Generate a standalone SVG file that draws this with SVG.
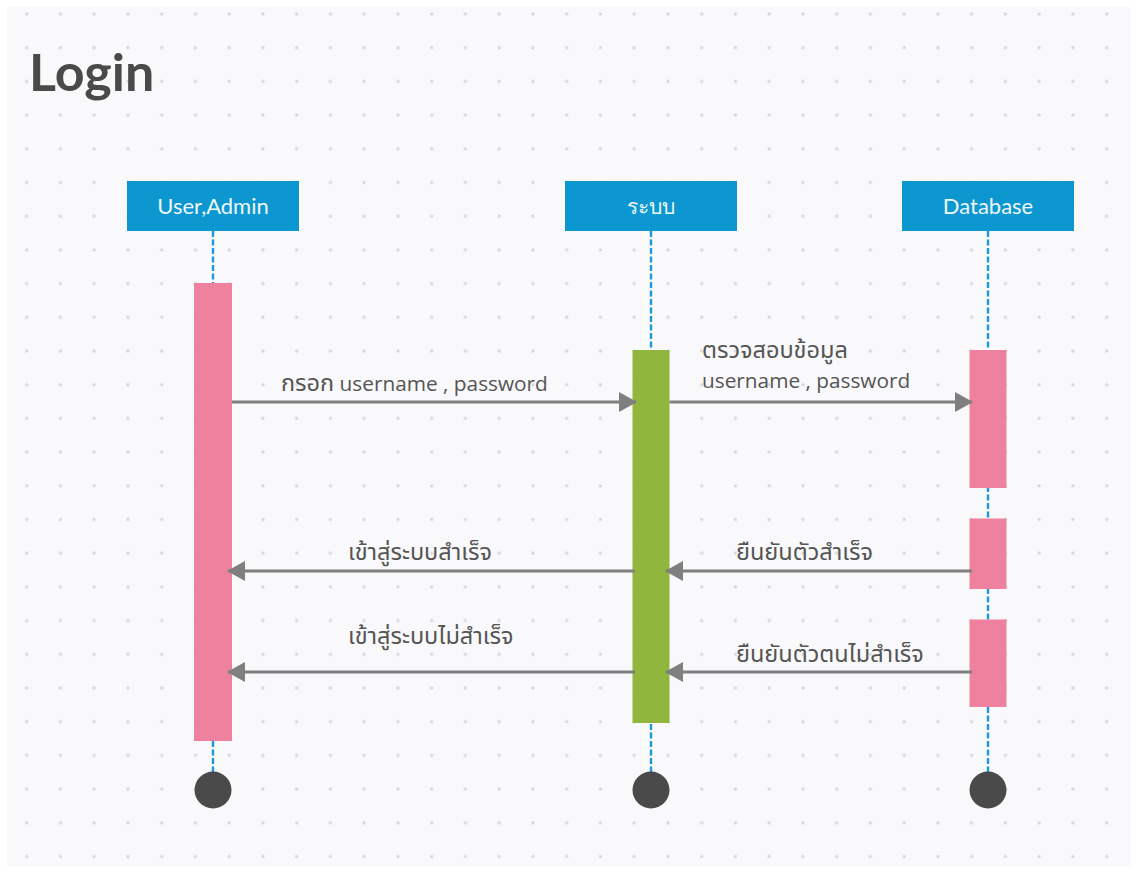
<svg xmlns="http://www.w3.org/2000/svg" width="1137" height="873" viewBox="0 0 1137 873">
  <defs>
    <pattern id="dots" patternUnits="userSpaceOnUse" x="9.8" y="-2.85" width="33.75" height="33.7">
      <circle cx="16.875" cy="16.85" r="1.7" fill="#d8d8dc"/>
    </pattern>
    <marker id="arrow" viewBox="0 0 18 20" refX="17" refY="10" markerUnits="userSpaceOnUse" markerWidth="18" markerHeight="20" orient="auto">
      <path d="M0,0 L18,10 L0,20 Z" fill="#7f7f7f"/>
    </marker>
    <style>
      .head { fill: #0c97d0; }
      .head-text { font-family: Lato, "Open Sans", sans-serif; font-size: 22px; fill: #eef7fb; text-anchor: middle; }
      .head-thai { font-size: 21px; }
      .life { stroke: #1a9ad6; stroke-width: 2.4; stroke-dasharray: 6 2.5; fill: none; }
      .act-pink { fill: #ee819d; }
      .act-green { fill: #91b63e; }
      .end { fill: #4a4a4a; }
      .msg { stroke: #7f7f7f; stroke-width: 3; fill: none; marker-end: url(#arrow); }
      .label { font-family: "Open Sans", "Noto Sans Thai", "Noto Sans", sans-serif; font-size: 20.8px; fill: #555555; }
      .th { font-size: 23.5px; }
    </style>
  </defs>

  <!-- canvas -->
  <rect x="0" y="0" width="1137" height="873" fill="#ffffff"/>
  <rect x="7" y="7" width="1124" height="860" fill="#f9f9fb"/>
  <rect x="7" y="7" width="1124" height="860" fill="url(#dots)"/>

  <text x="29" y="91" font-family="Lato, 'Open Sans', sans-serif" font-weight="bold" font-size="52" fill="#4a4a4a">Login</text>

  <!-- lifelines -->
  <g id="lifelines">
    <line class="life" x1="213" y1="231" x2="213" y2="772"/>
    <line class="life" x1="651" y1="231" x2="651" y2="772"/>
    <line class="life" x1="988" y1="231" x2="988" y2="772"/>
  </g>

  <g id="user-admin">
    <rect class="head" x="127" y="181" width="172" height="50"/>
    <text class="head-text" x="213" y="214">User,Admin</text>
    <rect class="act-pink" x="194" y="283" width="38" height="458"/>
    <circle class="end" cx="213" cy="790" r="18.5"/>
  </g>

  <g id="system">
    <rect class="head" x="565" y="181" width="172" height="50"/>
    <text class="head-text head-thai" x="651" y="214">ระบบ</text>
    <rect class="act-green" x="632.5" y="350" width="37" height="373"/>
    <circle class="end" cx="651" cy="790" r="18.5"/>
  </g>

  <g id="database">
    <rect class="head" x="902" y="181" width="172" height="50"/>
    <text class="head-text" x="988" y="214">Database</text>
    <rect class="act-pink" x="969.5" y="350" width="37" height="138"/>
    <rect class="act-pink" x="969.5" y="518.5" width="37" height="70.5"/>
    <rect class="act-pink" x="969.5" y="619.5" width="37" height="87.5"/>
    <circle class="end" cx="988" cy="790" r="18.5"/>
  </g>

  <!-- messages -->
  <g id="connectors">
    <line class="msg" x1="232" y1="402" x2="636" y2="402"/>
    <line class="msg" x1="669.5" y1="402" x2="972" y2="402"/>
    <line class="msg" x1="635" y1="571" x2="228" y2="571"/>
    <line class="msg" x1="972" y1="571" x2="666" y2="571"/>
    <line class="msg" x1="635" y1="672" x2="228" y2="672"/>
    <line class="msg" x1="972" y1="672" x2="666" y2="672"/>
  </g>

  <g id="labels">
    <text class="label" x="281" y="391"><tspan class="th">กรอก</tspan> username , password</text>
    <text class="label th" x="702" y="358">ตรวจสอบข้อมูล</text>
    <text class="label" x="702" y="388">username , password</text>
    <text class="label th" x="348" y="560">เข้าสู่ระบบสำเร็จ</text>
    <text class="label th" x="736" y="560">ยืนยันตัวสำเร็จ</text>
    <text class="label th" x="348" y="644">เข้าสู่ระบบไม่สำเร็จ</text>
    <text class="label th" x="736" y="662">ยืนยันตัวตนไม่สำเร็จ</text>
  </g>
</svg>
